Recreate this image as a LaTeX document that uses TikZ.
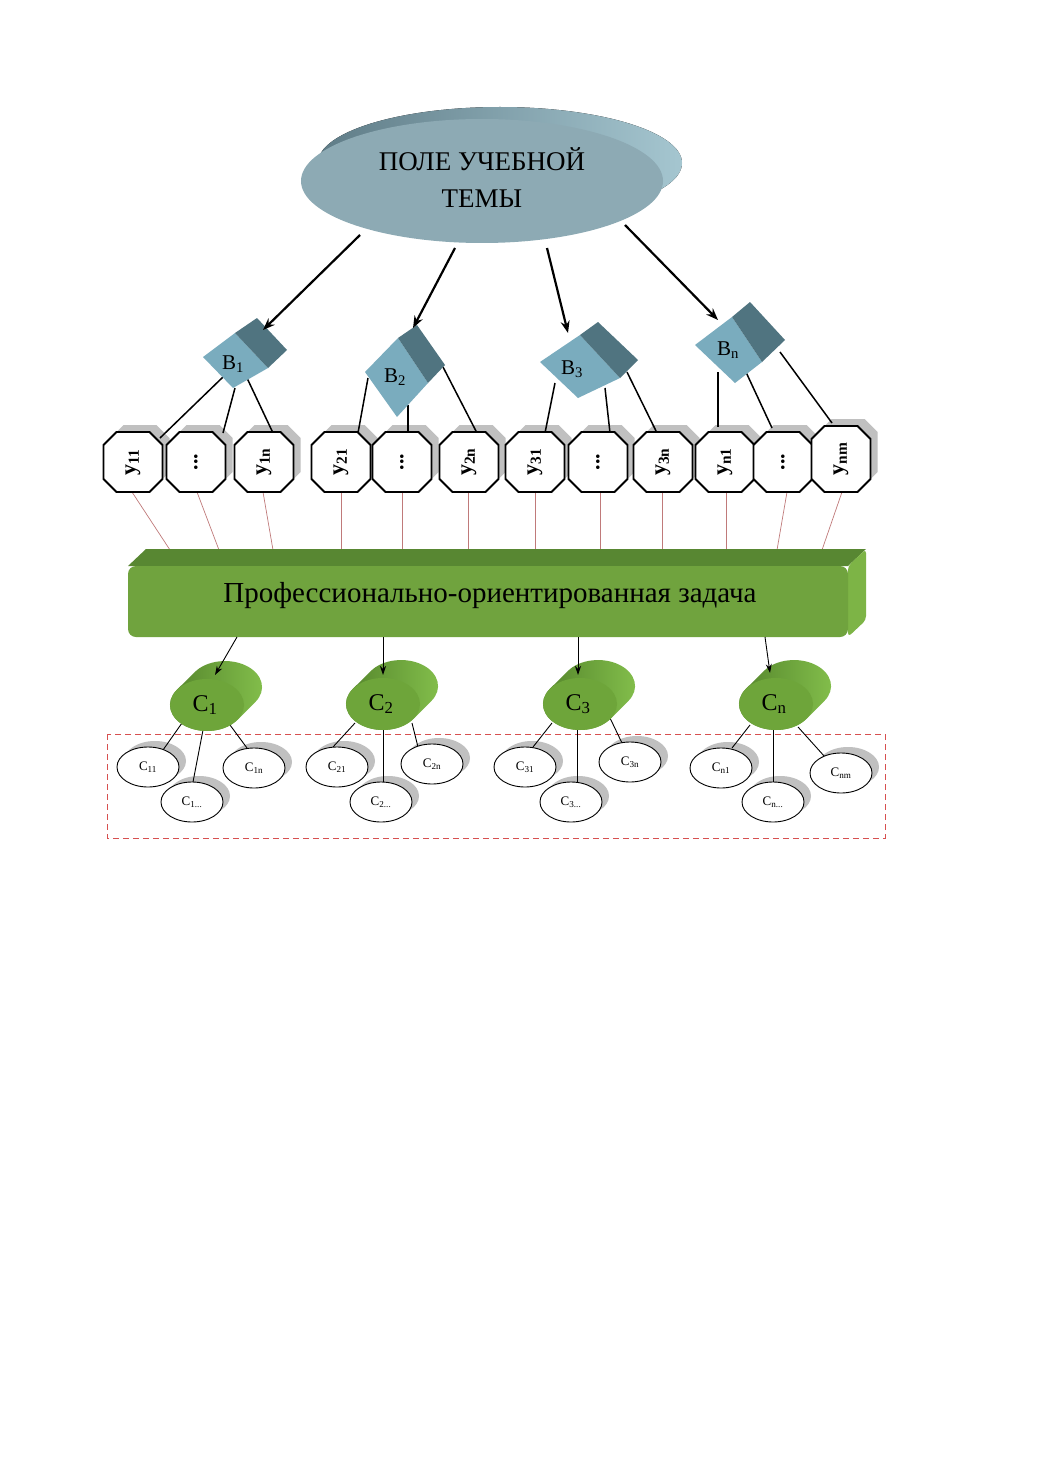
\documentclass[tikz,border=0pt]{standalone}
\usepackage{fontspec}
\setmainfont{Liberation Serif}
\usetikzlibrary{calc,arrows.meta,shapes.geometric}
\pgfdeclarelayer{bg}
\pgfdeclarelayer{shadow}
\pgfdeclarelayer{lines}
\pgfsetlayers{bg,shadow,lines,main}

\definecolor{elfront}{RGB}{141,170,180}
\definecolor{elback1}{RGB}{95,124,135}
\definecolor{elback2}{RGB}{165,198,208}
\definecolor{bfront}{RGB}{122,172,190}
\definecolor{bside}{RGB}{80,116,128}
\definecolor{shadowgray}{RGB}{192,192,192}
\definecolor{redline}{RGB}{192,122,122}
\definecolor{gfront}{RGB}{112,163,62}
\definecolor{gtop}{RGB}{88,135,50}
\definecolor{gright}{RGB}{125,180,70}
\definecolor{cyfront}{RGB}{110,165,58}
\definecolor{cydark}{RGB}{82,130,42}
\definecolor{cylight}{RGB}{132,192,76}
\definecolor{dashred}{RGB}{215,80,80}

\newcommand\octshape[5]{%
  \path[#1] ({#2-#4+13},{#3-#5}) -- ({#2+#4-13},{#3-#5}) -- ({#2+#4},{#3-#5+13})
    -- ({#2+#4},{#3+#5-13}) -- ({#2+#4-13},{#3+#5}) -- ({#2-#4+13},{#3+#5})
    -- ({#2-#4},{#3+#5-13}) -- ({#2-#4},{#3-#5+13}) -- cycle;}

\newcommand\cylbody[2]{%
  \path[left color=cydark, right color=cylight]
    ({#1+30.3},{#2+15}) -- ({#1+48.3},{#2-3})
    arc[start angle=35.1, end angle=-144.9, x radius=37, y radius=26]
    -- ({#1-30.3},{#2-15})
    arc[start angle=215.1, end angle=35.1, x radius=37, y radius=26] -- cycle;
  \fill[cyfront] (#1,#2) ellipse [x radius=37, y radius=26];}

\begin{document}
\begin{tikzpicture}[x=1pt,y=-1pt,
  blbl/.style={font=\fontsize{21}{21}\selectfont, inner sep=0pt},
  octlbl/.style={font=\bfseries\fontsize{22}{22}\selectfont, inner sep=0pt, rotate=90},
  clbl/.style={font=\fontsize{24}{24}\selectfont, inner sep=0pt},
  smell/.style={ellipse, draw=black, line width=0.9pt, fill=white, minimum width=62pt,
    minimum height=40pt, inner sep=0pt, font=\fontsize{13}{13}\selectfont},
  toparrow/.style={line width=2.2pt, -{Stealth[length=12pt,width=9pt]}},
  thinarrow/.style={line width=0.9pt, -{Stealth[length=9pt,width=6pt]}},
  blink/.style={line width=1.5pt, black},
  clink/.style={line width=0.9pt, black},
  redlink/.style={line width=0.7pt, redline},
  octline/.style={draw=black, line width=1.8pt, fill=white, line join=miter}]

\useasboundingbox (0,0) rectangle (1040,1471);
\begin{pgfonlayer}{bg}
  \fill[white] (0,0) rectangle (1040,1471);
  \draw[dashred, line width=0.9pt, dash pattern=on 6pt off 4pt] (107,734) rectangle (885,838);
\end{pgfonlayer}

% top ellipse
\fill[left color=elback1, right color=elback2] (500,163) ellipse [x radius=182, y radius=56];
\node[ellipse, fill=elfront, minimum width=362pt, minimum height=124pt, inner sep=0pt,
  align=center, font=\fontsize{27}{37}\selectfont] (top) at (482,181) {};
\node[align=center, font=\fontsize{27}{37}\selectfont, inner sep=0pt] (toptext) at (482,178) {ПОЛЕ УЧЕБНОЙ\\ТЕМЫ};

% octagons
\foreach \n/\px/\py/\hh/\t in {
  o1/133/462/30/{y\textsubscript{11}}, o2/196/462/30/{...}, o3/264/462/30/{y\textsubscript{1n}},
  o4/341/462/30/{y\textsubscript{21}}, o5/402/462/30/{...}, o6/469/462/30/{y\textsubscript{2n}},
  o7/535/462/30/{y\textsubscript{31}}, o8/598/462/30/{...}, o9/663/462/30/{y\textsubscript{3n}},
  o10/725/462/30/{y\textsubscript{n1}}, o11/783/462/30/{...}, o12/841/459/33/{y\textsubscript{nm}}}{
  \begin{pgfonlayer}{shadow}
    \octshape{fill=shadowgray}{\px+7}{\py-7}{29.5}{\hh}
  \end{pgfonlayer}
  \octshape{octline}{\px}{\py}{29.5}{\hh}
  \node[octlbl] (\n) at (\px,\py) {\t};
}

% B boxes
\fill[bfront] (203,357) -- (235,333) -- (268,368) -- (233,388) -- cycle;
\fill[bside] (235,333) -- (257,318) -- (287,350) -- (268,368) -- cycle;
\node[blbl] (B1) at (233,364) {B\textsubscript{1}};
\fill[bfront] (365,372) -- (398,338) -- (428,383) -- (397,417) -- cycle;
\fill[bside] (398,338) -- (417,325) -- (445,365) -- (428,383) -- cycle;
\node[blbl] (B2) at (395,377) {B\textsubscript{2}};
\fill[bfront] (540,362) -- (580,335) -- (620,378) -- (578,398) -- cycle;
\fill[bside] (580,335) -- (598,322) -- (638,360) -- (620,378) -- cycle;
\node[blbl] (B3) at (572,369) {B\textsubscript{3}};
\fill[bfront] (695,345) -- (732,317) -- (762,362) -- (735,383) -- cycle;
\fill[bside] (732,317) -- (750,302) -- (785,340) -- (762,362) -- cycle;
\node[blbl] (Bn) at (728,350) {B\textsubscript{n}};

% arrows top -> B
\draw[toparrow] ($(top)+(-122,54)$) -- ($(B1)+(30,-34)$);
\draw[toparrow] ($(top)+(-27,67)$) -- ($(B2)+(18,-49)$);
\draw[toparrow] ($(top)+(65,67)$) -- ($(B3)+(-4,-36)$);
\draw[toparrow] ($(top)+(143,44)$) -- ($(Bn)+(-10,-30)$);

% green bar
\fill[gtop] (128,566) -- (146,549) -- (866,549) -- (848,566) -- cycle;
\fill[gright, rounded corners=4pt] (848,566) -- (866,549) -- (866,620) -- (848,637) -- cycle;
\fill[gfront, rounded corners=8pt] (128,566) rectangle (848,637);
\node[font=\fontsize{29}{29}\selectfont, inner sep=0pt] (bar) at (490,596) {Профессионально-ориентированная задача};

% cylinders
\cylbody{207}{705}
\node[clbl] (C1) at (205,705) {C\textsubscript{1}};
\cylbody{383}{704}
\node[clbl] (C2) at (381,704) {C\textsubscript{2}};
\cylbody{580}{704}
\node[clbl] (C3) at (578,704) {C\textsubscript{3}};
\cylbody{776}{704}
\node[clbl] (Cn) at (774,704) {C\textsubscript{n}};

% arrows bar -> C
\draw[thinarrow] ($(bar)+(-253,41)$) -- ($(C1)+(10,-30)$);
\draw[thinarrow] ($(bar)+(-107,41)$) -- ($(C2)+(2,-29)$);
\draw[thinarrow] ($(bar)+(88,41)$) -- ($(C3)+(0,-29)$);
\draw[thinarrow] ($(bar)+(275,41)$) -- ($(Cn)+(-4,-31)$);

% small ellipses
\foreach \n/\px/\py/\t in {
  e11/148/767/{C\textsubscript{11}}, e1d/192/802/{C\textsubscript{1...}}, e1n/254/768/{C\textsubscript{1n}},
  e21/337/767/{C\textsubscript{21}}, e2d/381/802/{C\textsubscript{2...}}, e2n/432/764/{C\textsubscript{2n}},
  e31/525/767/{C\textsubscript{31}}, e3d/571/802/{C\textsubscript{3...}}, e3n/630/762/{C\textsubscript{3n}},
  en1/721/768/{C\textsubscript{n1}}, end/773/802/{C\textsubscript{n...}}, enm/841/773/{C\textsubscript{nm}}}{
  \node[smell] (\n) at (\px,\py) {\t};
  \begin{pgfonlayer}{shadow}
    \fill[shadowgray] (\px+7,\py-6) ellipse [x radius=31, y radius=20];
  \end{pgfonlayer}
}

% connectors on lines layer
\begin{pgfonlayer}{lines}
  % B -> octagons
  \draw[blink] ($(B1)+(-10,13)$) -- ($(o1)+(27,-24)$);
  \draw[blink] ($(B1)+(2,24)$) -- ($(o2)+(27,-29)$);
  \draw[blink] ($(B1)+(14,14)$) -- ($(o3)+(9,-29)$);
  \draw[blink] ($(B2)+(-27,1)$) -- ($(o4)+(17,-29)$);
  \draw[blink] ($(B2)+(13,28)$) -- ($(o5)+(6,-29)$);
  \draw[blink] ($(B2)+(48,-10)$) -- ($(o6)+(8,-29)$);
  \draw[blink] ($(B3)+(-17,14)$) -- ($(o7)+(10,-29)$);
  \draw[blink] ($(B3)+(33,19)$) -- ($(o8)+(12,-29)$);
  \draw[blink] ($(B3)+(55,3)$) -- ($(o9)+(-6,-29)$);
  \draw[blink] ($(Bn)+(-10,22)$) -- ($(o10)+(-7,-35)$);
  \draw[blink] ($(Bn)+(17,20)$) -- ($(o11)+(-11,-34)$);
  \draw[blink] ($(Bn)+(52,2)$) -- ($(o12)+(-9,-36)$);
  % octagons -> bar
  \draw[redlink] ($(o1)+(-1,30)$) -- ($(bar)+(-320,-46)$);
  \draw[redlink] ($(o2)+(1,30)$) -- ($(bar)+(-271,-46)$);
  \draw[redlink] ($(o3)+(-1,30)$) -- ($(bar)+(-217,-46)$);
  \draw[redlink] ($(o4)+(0,30)$) -- ($(bar)+(-149,-46)$);
  \draw[redlink] ($(o5)+(0,30)$) -- ($(bar)+(-88,-46)$);
  \draw[redlink] ($(o6)+(-1,30)$) -- ($(bar)+(-22,-46)$);
  \draw[redlink] ($(o7)+(0,30)$) -- ($(bar)+(45,-46)$);
  \draw[redlink] ($(o8)+(2,30)$) -- ($(bar)+(110,-46)$);
  \draw[redlink] ($(o9)+(-1,30)$) -- ($(bar)+(172,-46)$);
  \draw[redlink] ($(o10)+(1,30)$) -- ($(bar)+(236,-46)$);
  \draw[redlink] ($(o11)+(4,30)$) -- ($(bar)+(287,-46)$);
  \draw[redlink] ($(o12)+(1,33)$) -- ($(bar)+(332,-46)$);
  % C -> small ellipses
  \draw[clink] ($(C1)+(-23,18)$) -- ($(e11)+(15,-17)$);
  \draw[clink] ($(C1)+(-2,25)$) -- ($(e1d)+(1,-20)$);
  \draw[clink] ($(C1)+(25,20)$) -- ($(e1n)+(-7,-20)$);
  \draw[clink] ($(C2)+(-26,19)$) -- ($(e21)+(-4,-20)$);
  \draw[clink] ($(C2)+(2,26)$) -- ($(e2d)+(2,-19)$);
  \draw[clink] ($(C2)+(31,19)$) -- ($(e2n)+(-14,-17)$);
  \draw[clink] ($(C3)+(-26,19)$) -- ($(e31)+(8,-20)$);
  \draw[clink] ($(C3)+(-1,26)$) -- ($(e3d)+(6,-20)$);
  \draw[clink] ($(C3)+(32,14)$) -- ($(e3n)+(-8,-19)$);
  \draw[clink] ($(Cn)+(-24,21)$) -- ($(en1)+(11,-20)$);
  \draw[clink] ($(Cn)+(-1,26)$) -- ($(end)+(0,-20)$);
  \draw[clink] ($(Cn)+(24,23)$) -- ($(enm)+(-16,-16)$);
\end{pgfonlayer}
\end{tikzpicture}
\end{document}
